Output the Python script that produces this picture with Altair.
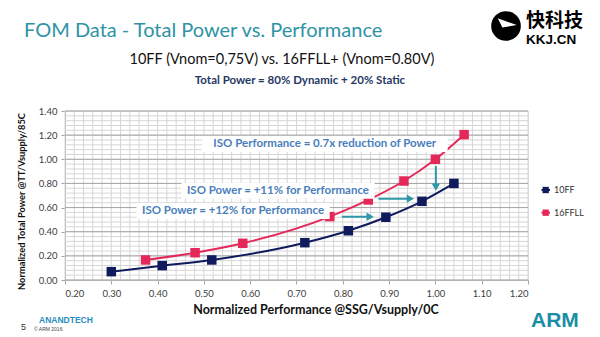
import altair as alt
import pandas as pd

# ---------------- data ----------------
series_names = ["10FF", "16FFLL"]
series_colors = ["#101b5e", "#e5285a"]

perf_10ff = [0.300, 0.410, 0.517, 0.718, 0.812, 0.893, 0.971, 1.040]
power_10ff = [0.069, 0.119, 0.166, 0.309, 0.408, 0.520, 0.652, 0.800]
perf_16ffll = [0.374, 0.481, 0.584, 0.772, 0.855, 0.932, 1.000, 1.062]
power_16ffll = [0.166, 0.226, 0.304, 0.525, 0.663, 0.820, 1.000, 1.204]

x_ticks = [0.2, 0.3, 0.4, 0.5, 0.6, 0.7, 0.8, 0.9, 1.0, 1.1, 1.2]
y_ticks = [0.0, 0.2, 0.4, 0.6, 0.8, 1.0, 1.2, 1.4]

ann_text = [
    "ISO Performance = 0.7x reduction of Power",
    "ISO Power = +11% for Performance",
    "ISO Power = +12% for Performance",
]
ann_x = [0.761, 0.660, 0.563]
ann_y = [1.127, 0.740, 0.572]

arrow_x0 = [0.798, 0.877, 1.001]
arrow_x1 = [0.867, 0.954, 1.001]
arrow_y0 = [0.524, 0.674, 0.944]
arrow_y1 = [0.524, 0.674, 0.740]
arrow_dir = ["right", "right", "down"]

# ---------------- layout ----------------
W, H = 463, 169
OX, OY = 65, 111
XDOM = [0.2, 1.2]
YDOM = [0.0, 1.4]

def px(x, y):
    return dict(x=alt.value(x - OX), y=alt.value(y - OY))

xscale = alt.Scale(domain=XDOM, nice=False, zero=False)
yscale = alt.Scale(domain=YDOM, nice=False, zero=True)

x_axis = alt.Axis(values=x_ticks, format=".2f", grid=False, title=None,
                  labelFont="Lato", labelFontSize=9.5, labelColor="#404040",
                  tickColor="#a6a6a6", tickSize=4, domainColor="#a6a6a6",
                  labelPadding=4)
y_axis = alt.Axis(values=y_ticks, format=".2f", grid=False, title=None,
                  labelFont="Lato", labelFontSize=9.5, labelColor="#404040",
                  tickColor="#a6a6a6", tickSize=4, domainColor="#a6a6a6",
                  labelPadding=4)

def X(f):
    return alt.X(f, scale=xscale, axis=x_axis)

def Y(f):
    return alt.Y(f, scale=yscale, axis=y_axis)

one = pd.DataFrame({"d": [0]})

# grid
minor_v = pd.DataFrame({"v": [round(0.2 + 0.02 * i, 2) for i in range(51)]})
minor_h = pd.DataFrame({"v": [round(0.04 * i, 2) for i in range(36)]})
major_h = pd.DataFrame({"v": y_ticks})

g1 = alt.Chart(minor_v).mark_rule(color="#d6d6d6", strokeWidth=1).encode(x=X("v:Q"))
g2 = alt.Chart(minor_h).mark_rule(color="#d6d6d6", strokeWidth=1).encode(y=Y("v:Q"))
g3 = alt.Chart(major_h).mark_rule(color="#a6a6a6", strokeWidth=1).encode(y=Y("v:Q"))

# series
rows = []
for name, xs, ys in [("10FF", perf_10ff, power_10ff), ("16FFLL", perf_16ffll, power_16ffll)]:
    for a, b in zip(xs, ys):
        rows.append({"series": name, "perf": a, "power": b})
df = pd.DataFrame(rows)
color = alt.Color("series:N", scale=alt.Scale(domain=series_names, range=series_colors), legend=None)

lines = alt.Chart(df).mark_line(interpolate="monotone", strokeWidth=2).encode(
    x=X("perf:Q"), y=Y("power:Q"), color=color, detail="series:N")
points = alt.Chart(df).mark_square(size=90, opacity=1).encode(
    x=X("perf:Q"), y=Y("power:Q"), color=color)

# arrows
ad = pd.DataFrame({"x0": arrow_x0, "x1": arrow_x1, "y0": arrow_y0, "y1": arrow_y1, "dir": arrow_dir})
ad["hx"] = [x1 - 0.008 if d == "right" else x1 for x1, d in zip(ad.x1, ad.dir)]
ad["hy"] = [y1 + 0.03 if d == "down" else y1 for y1, d in zip(ad.y1, ad.dir)]
arrow_col = "#2e97a8"
shafts = alt.Chart(ad).mark_rule(color=arrow_col, strokeWidth=2).encode(
    x=X("x0:Q"), x2="hx:Q", y=Y("y0:Q"), y2="hy:Q")
heads = alt.Chart(ad).mark_point(filled=True, size=70, opacity=1, color=arrow_col).encode(
    x=X("hx:Q"), y=Y("hy:Q"),
    shape=alt.Shape("dir:N", scale=alt.Scale(domain=["right", "down"],
                                               range=["triangle-right", "triangle-down"]), legend=None))

# annotations with white boxes
ann_layers = []
for t, ax, ay in zip(ann_text, ann_x, ann_y):
    d = pd.DataFrame({"t": [t], "x": [ax], "y": [ay]})
    ann_layers.append(alt.Chart(d).mark_rect(color="white", width=len(t) * 5.85 + 6, height=16).encode(
        x=X("x:Q"), y=Y("y:Q")))
ad2 = pd.DataFrame({"t": ann_text, "x": ann_x, "y": ann_y})
ann_txt = alt.Chart(ad2).mark_text(font="Lato", fontWeight="bold", fontSize=11.5, color="#4a7ebb",
                                   align="center", baseline="middle").encode(
    x=X("x:Q"), y=Y("y:Q"), text="t:N")

def txt(s, x, y, **kw):
    return alt.Chart(one).mark_text(text=s, **kw).encode(**px(x, y))

deco = [
    txt("FOM Data - Total Power vs. Performance", 24, 36.7, font="Lato", fontSize=20,
        color="#2f93a6", align="left", baseline="alphabetic"),
    txt("10FF (Vnom=0,75V) vs. 16FFLL+ (Vnom=0.80V)", 282, 64, font="Lato", fontSize=14.5,
        color="#111111", align="center", baseline="alphabetic"),
    txt("Total Power = 80% Dynamic + 20% Static", 300, 84, font="Lato", fontWeight="bold",
        fontSize=11.5, color="#1f3864", align="center", baseline="alphabetic"),
    txt("Normalized Performance @SSG/Vsupply/0C", 316, 314.3, font="Lato", fontWeight="bold",
        fontSize=12.5, color="#111111", align="center", baseline="alphabetic"),
    txt("Normalized Total Power @TT/Vsupply/85C", 21.7, 201.5, font="Lato", fontWeight="bold",
        fontSize=9.3, color="#111111", align="center", baseline="middle", angle=270),
    # logos / footer
    txt("快科技", 526, 26.5, font="Noto Sans CJK SC", fontWeight="bold", fontSize=19,
        color="#000000", align="left", baseline="alphabetic"),
    txt("KKJ.CN", 526, 43.5, font="Liberation Sans", fontWeight="bold", fontSize=13.5,
        color="#000000", align="left", baseline="alphabetic"),
    txt("ARM", 531, 327, font="Liberation Sans", fontWeight="bold", fontSize=21,
        color="#1b8ea6", align="left", baseline="alphabetic"),
    txt("ANANDTECH", 39, 322.5, font="Liberation Sans", fontWeight="bold", fontSize=8.5,
        color="#2a8cbf", align="left", baseline="alphabetic"),
    txt("5", 21, 330, font="Liberation Sans", fontSize=9, color="#333333",
        align="left", baseline="alphabetic"),
    txt("© ARM 2016", 34, 330.5, font="Liberation Sans", fontSize=5, color="#444444",
        align="left", baseline="alphabetic"),
    alt.Chart(one).mark_circle(size=880, color="#000000", opacity=1).encode(**px(506, 26)),
    alt.Chart(one).mark_point(shape="M-0.9,-0.55L0.95,0.1L-0.45,0.35Z", filled=True,
                              size=420, color="#ffffff", opacity=1).encode(**px(507, 24)),
]

# manual legend
for i, (name, col) in enumerate(zip(series_names, series_colors)):
    yy = 190 + i * 22.7
    deco.append(alt.Chart(one).mark_rule(color=col, strokeWidth=2).encode(
        x=alt.value(541.5 - OX), x2=alt.value(550 - OX), y=alt.value(yy - OY)))
    deco.append(alt.Chart(one).mark_square(size=40, color=col, opacity=1).encode(**px(545.7, yy)))
    deco.append(txt(name, 554, yy, font="Lato", fontSize=9, color="#333333",
                    align="left", baseline="middle"))

chart = alt.layer(g1, g2, g3, lines, points, *ann_layers, ann_txt, shafts, heads, *deco).properties(
    width=W, height=H,
    autosize=alt.AutoSizeParams(type="none"),
    padding={"left": OX, "top": OY, "right": 600 - OX - W, "bottom": 337 - OY - H},
).configure_view(stroke=None).configure(background="white")

chart.save("out.html", embed_options={"renderer": "svg", "actions": False})
